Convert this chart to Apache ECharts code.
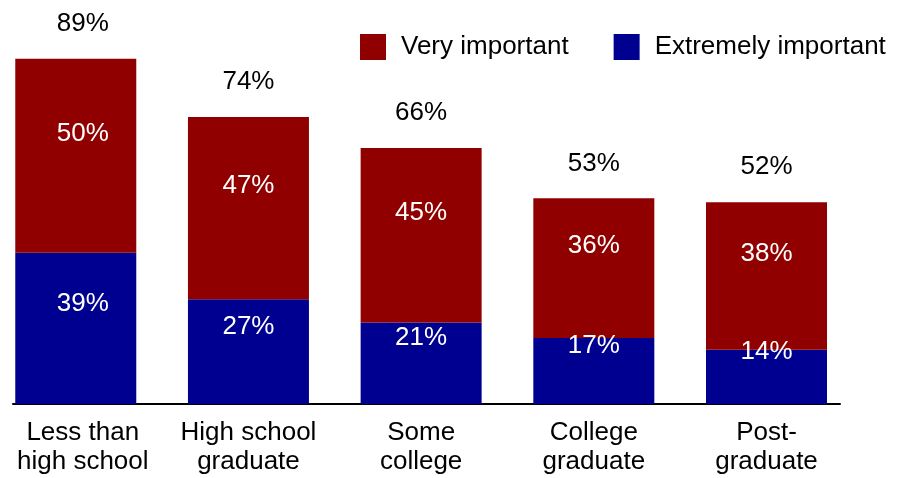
<!DOCTYPE html>
<html>
<head>
<meta charset="utf-8">
<script src="https://cdn.jsdelivr.net/npm/echarts@6/dist/echarts.min.js"></script>
<style>
  html, body { margin: 0; padding: 0; background: #fff; }
  #chart { width: 899px; height: 478px; }
</style>
</head>
<body>
<div id="chart"></div>
<script>
// Education groups and the share rating each level of importance
const categories = ['Less than\nhigh school', 'High school\ngraduate', 'Some\ncollege', 'College\ngraduate', 'Post-\ngraduate'];
const extremelyImportant = [39, 27, 21, 17, 14];
const veryImportant = [50, 47, 45, 36, 38];
const totals = [89, 74, 66, 53, 52];

const FONT = '"Liberation Sans", Arial, sans-serif';
const RED = '#900000';
const BLUE = '#000090';
const FS = 26;

// text of the leftmost column sits a little right of its bar's centre;
// segment labels ride above the middle of their segment
const shiftLabel = dy => p => ({ dx: p.dataIndex === 0 ? 7 : 0, dy: dy });

const chart = echarts.init(document.getElementById('chart'), null, { renderer: 'canvas' });

chart.setOption({
  animation: false,
  backgroundColor: '#fff',
  textStyle: { fontFamily: FONT },
  legend: {
    data: ['Very important', 'Extremely important'],
    left: 360,
    top: 34,
    padding: 0,
    icon: 'rect',
    itemWidth: 26,
    itemHeight: 26,
    itemGap: 45,
    textStyle: { fontFamily: FONT, fontSize: FS, color: '#000', padding: [0, 0, 0, 10] }
  },
  grid: [
    // categories sit on the tick points; the first and last bar centres define the grid edges
    { left: 73.5, right: 132.5, top: 16, bottom: 74 },
    // grid that carries the baseline
    { left: 13, right: 59, top: 16, bottom: 74 }
  ],
  xAxis: [
    {
      type: 'category',
      gridIndex: 0,
      data: categories,
      boundaryGap: false,
      axisLine: { show: false },
      axisTick: { show: false },
      axisLabel: {
        interval: 0,
        fontFamily: FONT,
        fontSize: FS,
        lineHeight: 29,
        color: '#000',
        margin: 14,
        formatter: (value, index) =>
          index === 0 ? value.split('\n').map(s => '{first|' + s + '}').join('\n') : value,
        rich: {
          first: { fontFamily: FONT, fontSize: FS, lineHeight: 29, color: '#000', padding: [0, 0, 0, 14] }
        }
      }
    },
    {
      type: 'value',
      gridIndex: 1,
      min: 0,
      max: 1,
      axisLine: { show: true, lineStyle: { color: '#000', width: 2 } },
      axisTick: { show: false },
      axisLabel: { show: false },
      splitLine: { show: false }
    }
  ],
  yAxis: [
    { type: 'value', gridIndex: 0, min: 0, max: 100, show: false, splitLine: { show: false } },
    { type: 'value', gridIndex: 1, min: 0, max: 100, show: false, splitLine: { show: false } }
  ],
  series: [
    {
      name: 'Extremely important',
      type: 'bar',
      stack: 'share',
      barWidth: 121,
      data: extremelyImportant,
      itemStyle: { color: BLUE },
      labelLayout: shiftLabel(-25),
      label: {
        show: true,
        position: 'inside',
        color: '#fff',
        fontFamily: FONT,
        fontSize: FS,
        formatter: p => p.value + '%'
      }
    },
    {
      name: 'Very important',
      type: 'bar',
      stack: 'share',
      barWidth: 121,
      data: veryImportant,
      itemStyle: { color: RED },
      labelLayout: shiftLabel(-22),
      label: {
        show: true,
        position: 'inside',
        color: '#fff',
        fontFamily: FONT,
        fontSize: FS,
        formatter: p => p.value + '%'
      }
    },
    {
      // zero-height cap that carries the total above each stack
      name: 'Total',
      type: 'bar',
      stack: 'share',
      barWidth: 121,
      data: totals.map(() => 0),
      itemStyle: { color: 'transparent' },
      labelLayout: shiftLabel(0),
      label: {
        show: true,
        position: 'top',
        distance: 22,
        color: '#000',
        fontFamily: FONT,
        fontSize: FS,
        formatter: p => totals[p.dataIndex] + '%'
      }
    }
  ]
});
</script>
</body>
</html>
